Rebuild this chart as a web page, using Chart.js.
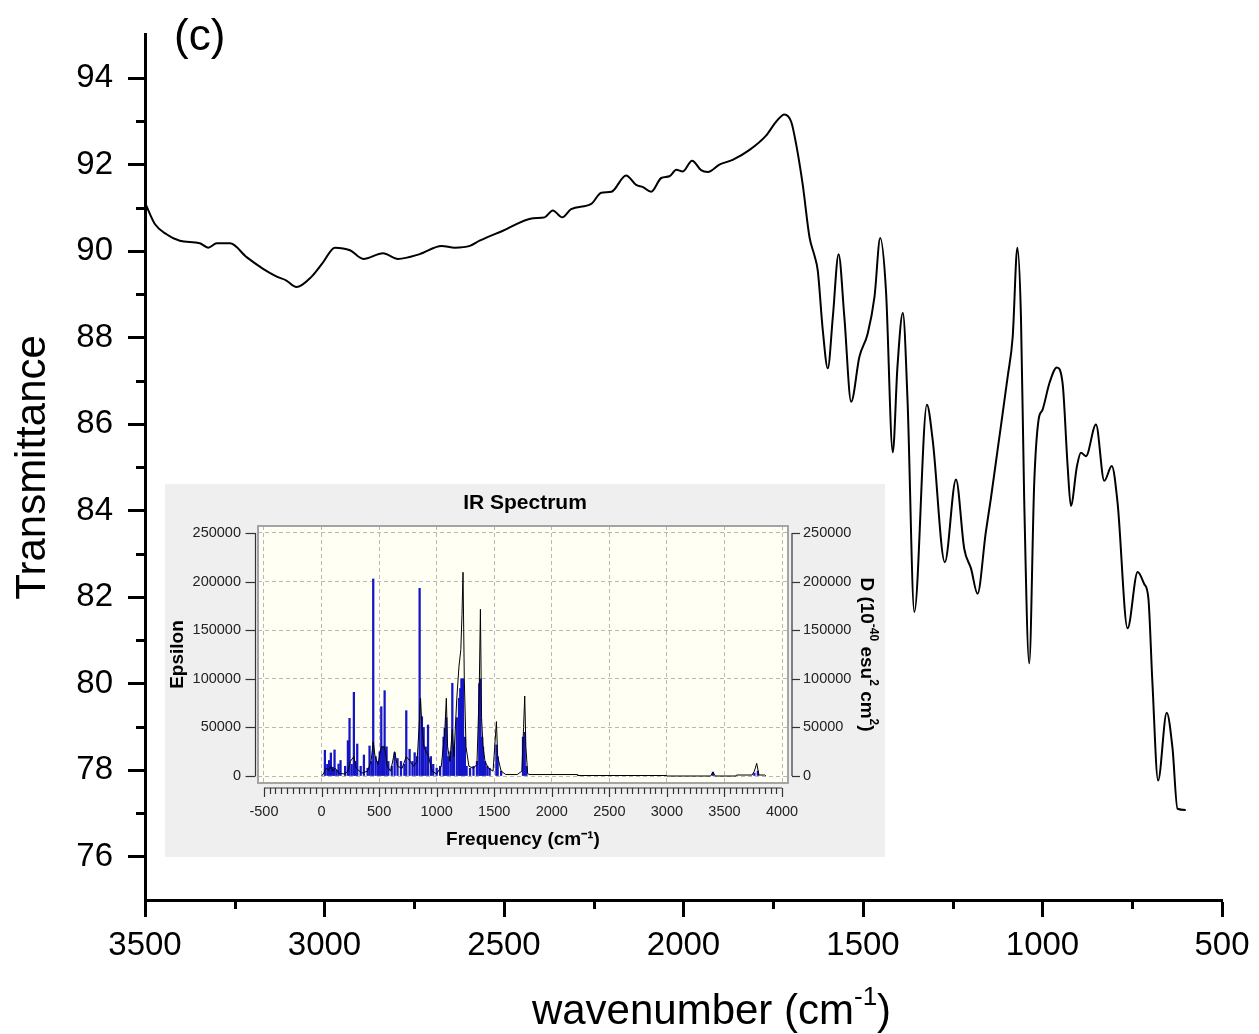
<!DOCTYPE html>
<html><head><meta charset="utf-8">
<script src="https://cdn.jsdelivr.net/npm/chart.js@4.4.1/dist/chart.umd.min.js"></script>
<style>
html,body{margin:0;padding:0;background:#fff;overflow:hidden;}
#wrap{position:relative;width:1259px;height:1034px;background:#fff;}
#main{position:absolute;left:0;top:0;}
#inset{position:absolute;left:165px;top:484px;}
</style></head><body>
<div id="wrap">
<canvas id="main" width="1259" height="1034"></canvas>
<canvas id="inset" width="720" height="373"></canvas>
</div>
<script>
// ---- main FTIR spectrum ----
const wavenumber = [3500,3472,3440,3403,3347,3324,3300,3263,3217,3171,3133,3106,3078,3036,3004,2971,2929,2892,2837,2795,2735,2674,2637,2595,2568,2503,2419,2387,2364,2338,2313,2257,2229,2201,2160,2132,2113,2090,2062,2039,2020,2002,1976,1951,1932,1900,1863,1816,1770,1742,1719,1700,1686,1668,1649,1635,1626,1612,1598,1584,1568,1552,1533,1510,1487,1468,1452,1436,1417,1404,1389,1376,1357,1322,1306,1272,1241,1218,1199,1181,1158,1144,1125,1097,1083,1070,1060,1051,1037,1023,1011,1000,981,960,944,930,921,904,893,879,851,828,807,791,763,735,717,705,694,678,654,638,624,601];
const transmittance = [91.12,90.62,90.39,90.24,90.18,90.08,90.18,90.18,89.86,89.59,89.41,89.32,89.17,89.41,89.74,90.08,90.02,89.82,89.95,89.82,89.93,90.12,90.08,90.12,90.24,90.47,90.76,90.78,90.94,90.78,90.97,91.09,91.35,91.37,91.75,91.53,91.48,91.37,91.69,91.73,91.88,91.84,92.09,91.87,91.83,92.00,92.11,92.34,92.67,92.99,93.16,92.99,92.46,91.54,90.32,89.89,89.55,88.17,87.29,88.48,89.93,88.48,86.52,87.56,88.09,88.94,90.30,89.09,85.35,87.33,88.57,86.56,81.66,86.45,85.64,82.81,84.72,83.12,82.66,82.08,83.50,84.27,85.41,87.10,88.02,90.08,88.48,84.27,80.47,84.65,86.10,86.33,86.94,87.31,86.94,85.03,84.11,85.03,85.34,85.26,85.99,84.69,85.03,84.19,81.28,82.58,82.31,81.97,80.05,77.76,79.33,78.52,77.11,77.08];
const mainXTicks = [3500,3000,2500,2000,1500,1000,500];
const mainXMinor = [3250,2750,2250,1750,1250,750];
const mainYTicks = [76,78,80,82,84,86,88,90,92,94];
const mainYMinor = [77,79,81,83,85,87,89,91,93];

// ---- inset: calculated IR spectrum ----
const stickFreq = [29,50,66,81,100,113,130,148,165,205,229,243,262,281,295,310,340,368,400,417,435,449,470,490,505,519,535,548,565,580,610,635,660,690,720,736,765,790,809,830,852,872,887,905,925,950,970,1000,1030,1060,1070,1084,1100,1120,1136,1150,1175,1194,1205,1215,1229,1245,1260,1290,1320,1350,1370,1380,1395,1403,1420,1440,1460,1519,1530,1560,1750,1765,1780,3400,3760,3790];
const stickD = [26500,12000,16000,23700,9000,26800,6000,12300,16000,10000,36400,59300,12000,86100,15000,32900,10000,21600,8000,30900,15000,202700,20000,15000,25000,71300,30000,87800,30000,15000,10000,24000,18000,15000,12000,67200,27400,15000,24000,20000,193100,61000,50000,30000,52500,20000,12000,8000,10000,40000,49000,60000,20000,25000,95400,30000,60000,80000,90000,100000,100000,40000,10000,8000,10000,15000,95000,100000,40000,30000,15000,10000,8000,32000,20000,5000,40000,45000,10000,4000,3000,5000];
const epsFreq = [0,20,40,60,80,100,120,150,200,229,250,281,300,350,400,430,449,465,490,519,548,570,600,635,660,700,736,770,800,830,852,860,872,890,910,930,960,1000,1040,1070,1084,1095,1115,1136,1150,1175,1194,1210,1220,1229,1240,1255,1280,1320,1350,1370,1380,1390,1403,1420,1450,1490,1519,1530,1560,1600,1700,1740,1755,1765,1775,1790,1800,2220,2225,3000,3005,3380,3400,3420,3600,3605,3740,3760,3780,3800,3850,3860];
const epsVal = [0,3000,8000,6000,10000,5000,8000,3000,2000,5000,15000,20000,8000,3000,5000,15000,35000,20000,12000,30000,30000,10000,5000,25000,10000,8000,20000,15000,10000,15000,60000,80000,50000,30000,25000,20000,5000,2000,10000,45000,80000,30000,15000,48000,20000,80000,113000,130000,166000,209600,100000,30000,10000,8000,12000,90000,171500,60000,30000,15000,8000,5000,56000,20000,5000,1500,1500,5000,50000,82300,30000,3000,1500,1500,500,500,0,0,4000,0,0,1000,1000,5000,13000,1000,1000,0];
const insetXTicks = [-500,0,500,1000,1500,2000,2500,3000,3500,4000];
const insetYTicks = [0,50000,100000,150000,200000,250000];

Chart.defaults.font.family = '"Liberation Sans", Arial, sans-serif';
Chart.defaults.color = '#000';

const FONT = '"Liberation Sans", Arial, sans-serif';
const plain = v => String(v);

// draws text pieces [text, isSuperscript] starting at x along baseline
function drawRich(ctx, parts, x, base, size, sup, weight) {
  parts.forEach(([t, s]) => {
    ctx.font = weight + ' ' + (s ? sup : size) + 'px ' + FONT;
    ctx.fillText(t, x, s ? base - size * 0.45 : base);
    x += ctx.measureText(t).width;
  });
}
function richWidth(ctx, parts, size, sup, weight) {
  let w = 0;
  parts.forEach(([t, s]) => { ctx.font = weight + ' ' + (s ? sup : size) + 'px ' + FONT; w += ctx.measureText(t).width; });
  return w;
}

const mainDecor = {
  id: 'mainDecor',
  afterDraw(chart) {
    const ctx = chart.ctx, ca = chart.chartArea;
    const xs = chart.scales.x, ys = chart.scales.y;
    ctx.save();
    ctx.strokeStyle = '#000';
    ctx.lineWidth = 3;
    mainXMinor.forEach(v => {
      const px = Math.round(xs.getPixelForValue(v)) + 0.5;
      ctx.beginPath(); ctx.moveTo(px, ca.bottom); ctx.lineTo(px, ca.bottom + 9); ctx.stroke();
    });
    mainYMinor.forEach(v => {
      const py = Math.round(ys.getPixelForValue(v)) + 0.5;
      ctx.beginPath(); ctx.moveTo(ca.left - 9, py); ctx.lineTo(ca.left, py); ctx.stroke();
    });
    ctx.fillStyle = '#000';
    ctx.textBaseline = 'alphabetic';
    ctx.textAlign = 'left';
    const parts = [['wavenumber (cm', false], ['-1', true], [')', false]];
    const w = richWidth(ctx, parts, 42, 26, 'normal');
    const cx = (ca.left + ca.right) / 2 + 28;
    drawRich(ctx, parts, cx - w / 2, 1024, 42, 26, 'normal');
    ctx.font = '44px ' + FONT;
    ctx.fillText('(c)', 174, 50);
    ctx.restore();
  }
};

new Chart(document.getElementById('main'), {
  type: 'line',
  data: {
    datasets: [{
      data: wavenumber.map((w, i) => ({x: w, y: transmittance[i]})),
      borderColor: '#000', borderWidth: 2, pointRadius: 0,
      cubicInterpolationMode: 'monotone', fill: false
    }]
  },
  options: {
    responsive: false, animation: false, devicePixelRatio: 1,
    layout: {padding: {top: 29, right: 37, left: 0, bottom: 0}},
    plugins: {legend: {display: false}, tooltip: {enabled: false}},
    scales: {
      x: {
        type: 'linear', reverse: true, min: 500, max: 3500,
        afterBuildTicks: s => { s.ticks = mainXTicks.map(v => ({value: v})); },
        afterFit: s => { s.height = 134; },
        grid: {drawOnChartArea: false, drawTicks: true, tickLength: 17, tickWidth: 3, tickColor: '#000'},
        border: {display: true, color: '#000', width: 3},
        ticks: {autoSkip: false, maxRotation: 0, padding: 9, font: {size: 33}, color: '#000', callback: plain}
      },
      y: {
        type: 'linear', min: 75, max: 95,
        afterBuildTicks: s => { s.ticks = mainYTicks.map(v => ({value: v})); },
        afterFit: s => { s.width = 145; },
        grid: {drawOnChartArea: false, drawTicks: true, tickLength: 17, tickWidth: 3, tickColor: '#000'},
        border: {display: true, color: '#000', width: 3},
        ticks: {padding: 15, font: {size: 33}, color: '#000', callback: plain},
        title: {display: true, text: 'Transmittance', font: {size: 42}, color: '#000', padding: {top: 8, bottom: 0}}
      }
    }
  },
  plugins: [mainDecor]
});

const insetDecor = {
  id: 'insetDecor',
  beforeDraw(chart) {
    const ctx = chart.ctx, ca = chart.chartArea;
    ctx.save();
    ctx.fillStyle = '#efefef';
    ctx.fillRect(0, 0, chart.width, chart.height);
    ctx.fillStyle = '#fffff3';
    ctx.fillRect(ca.left, ca.top, ca.right - ca.left, ca.bottom - ca.top);
    ctx.restore();
  },
  afterDraw(chart) {
    const ctx = chart.ctx, ca = chart.chartArea;
    const xs = chart.scales.x, ys = chart.scales.y;
    ctx.save();
    ctx.strokeStyle = '#a4a4a4'; ctx.lineWidth = 2;
    ctx.strokeRect(ca.left, ca.top, ca.right - ca.left, ca.bottom - ca.top);
    ctx.strokeStyle = '#333'; ctx.lineWidth = 1.2;
    const yTop = ys.getPixelForValue(insetYTicks[insetYTicks.length - 1]);
    const yBot = ys.getPixelForValue(insetYTicks[0]);
    const lx = ca.left - 2.5, rx = ca.right + 4;
    ctx.beginPath(); ctx.moveTo(lx, yTop); ctx.lineTo(lx, yBot); ctx.stroke();
    ctx.beginPath(); ctx.moveTo(rx, yTop); ctx.lineTo(rx, yBot); ctx.stroke();
    insetYTicks.forEach(v => {
      const py = Math.round(ys.getPixelForValue(v)) + 0.5;
      ctx.beginPath(); ctx.moveTo(lx - 10, py); ctx.lineTo(lx, py); ctx.stroke();
      ctx.beginPath(); ctx.moveTo(rx, py); ctx.lineTo(rx + 8, py); ctx.stroke();
    });
    const by = ca.bottom + 5;
    const xL = xs.getPixelForValue(insetXTicks[0]);
    const xR = xs.getPixelForValue(insetXTicks[insetXTicks.length - 1]);
    ctx.beginPath(); ctx.moveTo(xL, by); ctx.lineTo(xR, by); ctx.stroke();
    for (let v = insetXTicks[0]; v <= insetXTicks[insetXTicks.length - 1]; v += 50) {
      const px = Math.round(xs.getPixelForValue(v)) + 0.5;
      const len = (v % 500 === 0) ? 9 : 6;
      ctx.beginPath(); ctx.moveTo(px, by); ctx.lineTo(px, by + len); ctx.stroke();
    }
    // right axis title with superscripts, rotated clockwise
    const parts = [['D (10', false], ['-40', true], [' esu', false], ['2', true], [' cm', false], ['2', true], [')', false]];
    ctx.fillStyle = '#000';
    ctx.textAlign = 'left'; ctx.textBaseline = 'alphabetic';
    const w = richWidth(ctx, parts, 19, 12, 'bold');
    ctx.translate(chart.width - 24, (ca.top + ca.bottom) / 2);
    ctx.rotate(Math.PI / 2);
    drawRich(ctx, parts, -w / 2, 0, 19, 12, 'bold');
    ctx.restore();
  }
};

const insetTickFont = {size: 14.5};
new Chart(document.getElementById('inset'), {
  type: 'bar',
  data: {
    datasets: [
      {type: 'line', data: epsFreq.map((f, i) => ({x: f, y: epsVal[i]})), borderColor: '#000', borderWidth: 1, pointRadius: 0, yAxisID: 'y', order: 1, fill: false},
      {type: 'bar', data: stickFreq.map((f, i) => ({x: f, y: stickD[i]})), backgroundColor: '#1414c8', barThickness: 1.6, yAxisID: 'y2', order: 2}
    ]
  },
  options: {
    responsive: false, animation: false, devicePixelRatio: 1,
    layout: {padding: 0},
    plugins: {
      legend: {display: false}, tooltip: {enabled: false},
      title: {display: true, text: 'IR Spectrum', font: {size: 21, weight: 'bold'}, color: '#000', padding: {top: 7, bottom: 9.8}}
    },
    scales: {
      x: {
        type: 'linear', min: -552, max: 4052, offset: false,
        afterBuildTicks: s => { s.ticks = insetXTicks.map(v => ({value: v})); },
        afterFit: s => { s.height = 74; },
        grid: {drawTicks: false, color: '#b8b8b8', lineWidth: 1, offset: false},
        border: {display: false, dash: [4, 3]},
        ticks: {padding: 20, font: insetTickFont, color: '#222', autoSkip: false, maxRotation: 0, callback: plain},
        title: {display: true, text: 'Frequency (cm⁻¹)', font: {size: 19, weight: 'bold'}, color: '#000', padding: {top: 0, bottom: 5.6}}
      },
      y: {
        position: 'left', min: -7200, max: 257200,
        afterBuildTicks: s => { s.ticks = insetYTicks.map(v => ({value: v})); },
        afterFit: s => { s.width = 93; },
        grid: {drawTicks: false, color: '#b8b8b8', lineWidth: 1},
        border: {display: false, dash: [4, 3]},
        ticks: {padding: 17, font: insetTickFont, color: '#222', callback: plain},
        title: {display: true, text: 'Epsilon', font: {size: 19, weight: 'bold'}, color: '#000', padding: {top: 1.6, bottom: 0}}
      },
      y2: {
        position: 'right', min: -7200, max: 257200,
        afterBuildTicks: s => { s.ticks = insetYTicks.map(v => ({value: v})); },
        afterFit: s => { s.width = 97; },
        grid: {drawTicks: false, drawOnChartArea: false},
        border: {display: false},
        ticks: {padding: 15, font: insetTickFont, color: '#222', callback: plain}
      }
    }
  },
  plugins: [insetDecor]
});
</script>
</body></html>
